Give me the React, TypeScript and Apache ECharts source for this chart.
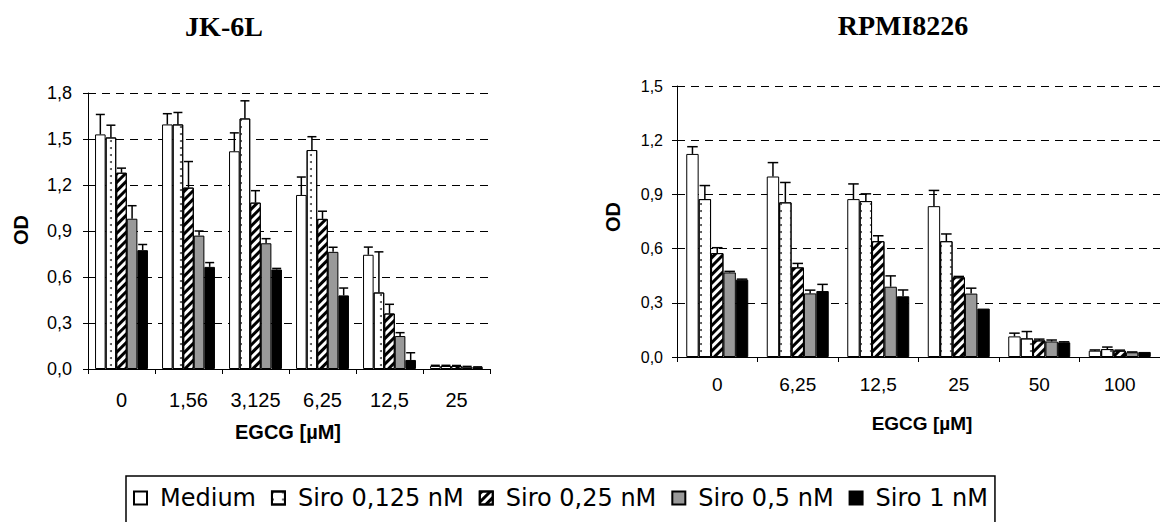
import React, { useEffect, useRef } from "react";
import * as echarts from "echarts";

const seriesNames = ["Medium", "Siro 0,125 nM", "Siro 0,25 nM", "Siro 0,5 nM", "Siro 1 nM"];

const leftCategories = ["0", "1,56", "3,125", "6,25", "12,5", "25"];
const rightCategories = ["0", "6,25", "12,5", "25", "50", "100"];

// JK-6L
const leftMedium = [1.53, 1.595, 1.42, 1.135, 0.745, 0.02];
const leftSiro0125 = [1.51, 1.595, 1.634, 1.428, 0.499, 0.02];
const leftSiro025 = [1.28, 1.183, 1.085, 0.979, 0.362, 0.02];
const leftSiro05 = [0.98, 0.87, 0.82, 0.764, 0.215, 0.015];
const leftSiro1 = [0.775, 0.666, 0.649, 0.48, 0.059, 0.012];

const leftMediumErr = [0.13, 0.07, 0.12, 0.117, 0.05, 0.004];
const leftSiro0125Err = [0.08, 0.078, 0.115, 0.087, 0.265, 0.004];
const leftSiro025Err = [0.03, 0.17, 0.078, 0.05, 0.06, 0.003];
const leftSiro05Err = [0.085, 0.03, 0.03, 0.03, 0.022, 0.002];
const leftSiro1Err = [0.037, 0.028, 0.007, 0.048, 0.047, 0.002];

// RPMI8226
const rightMedium = [1.124, 0.999, 0.874, 0.835, 0.114, 0.035];
const rightSiro0125 = [0.874, 0.856, 0.863, 0.641, 0.103, 0.044];
const rightSiro025 = [0.575, 0.496, 0.641, 0.441, 0.092, 0.035];
const rightSiro05 = [0.468, 0.352, 0.389, 0.351, 0.086, 0.026];
const rightSiro1 = [0.428, 0.365, 0.336, 0.268, 0.081, 0.028];

const rightMediumErr = [0.04, 0.077, 0.084, 0.087, 0.018, 0.004];
const rightSiro0125Err = [0.075, 0.11, 0.04, 0.04, 0.038, 0.011];
const rightSiro025Err = [0.03, 0.022, 0.03, 0.005, 0.007, 0.003];
const rightSiro05Err = [0.006, 0.018, 0.06, 0.03, 0.008, 0.002];
const rightSiro1Err = [0.003, 0.037, 0.035, 0, 0.003, 0];

const leftValues = [leftMedium, leftSiro0125, leftSiro025, leftSiro05, leftSiro1];
const leftErrors = [leftMediumErr, leftSiro0125Err, leftSiro025Err, leftSiro05Err, leftSiro1Err];
const rightValues = [rightMedium, rightSiro0125, rightSiro025, rightSiro05, rightSiro1];
const rightErrors = [rightMediumErr, rightSiro0125Err, rightSiro025Err, rightSiro05Err, rightSiro1Err];

const leftTicks = { min: 0, max: 1.8, interval: 0.3 };
const rightTicks = { min: 0, max: 1.5, interval: 0.3 };

const SANS = "Liberation Sans, Arial, Helvetica, sans-serif";

const seriesStyles = [
  { color: "#ffffff" },
  {
    color: "#ffffff",
    decal: {
      symbol: "circle",
      symbolSize: 1,
      color: "#444444",
      dashArrayX: [2, 8],
      dashArrayY: [2, 5],
      rotation: 0,
    },
  },
  {
    color: "#ffffff",
    decal: {
      symbol: "rect",
      symbolSize: 1,
      color: "#000000",
      dashArrayX: [1, 0],
      dashArrayY: [3, 3],
      rotation: -Math.PI / 4,
    },
  },
  { color: "#999999" },
  { color: "#000000" },
];

const fmt = (v: number) => v.toFixed(1).replace(".", ",");

function makeErrorSeries(gridIdx: number, values: number[][], errors: number[][], catGap: number) {
  const data: number[][] = [];
  values.forEach((vals, s) => {
    vals.forEach((v, c) => {
      data.push([c, v, errors[s][c], s]);
    });
  });
  return {
    type: "custom",
    name: "err" + gridIdx,
    xAxisIndex: gridIdx,
    yAxisIndex: gridIdx,
    z: 10,
    silent: true,
    encode: { x: 0, y: 1 },
    data,
    renderItem: (params: any, api: any) => {
      const c = api.value(0);
      const v = api.value(1);
      const e = api.value(2);
      const s = api.value(3);
      if (!(e > 0)) return { type: "group", children: [] };
      const base = api.coord([c, v]);
      const top = api.coord([c, v + e]);
      const band = api.size([1, 0])[0];
      const barW = (band * (1 - catGap)) / 5;
      const x = base[0] + (s - 2) * barW;
      const capW = barW * 0.85;
      const st = { stroke: "#000", lineWidth: 1.5 };
      return {
        type: "group",
        children: [
          { type: "line", shape: { x1: x, y1: base[1], x2: x, y2: top[1] }, style: st },
          { type: "line", shape: { x1: x - capW / 2, y1: top[1], x2: x + capW / 2, y2: top[1] }, style: st },
        ],
      };
    },
  };
}

export default function App() {
  const ref = useRef<HTMLDivElement>(null);

  useEffect(() => {
    if (!ref.current) return;
    const chart = echarts.init(ref.current, null, { renderer: "svg" });

    const leftGap = 0.21;
    const rightGap = 0.23;

    const xAxisBase = (labelSize: number, margin: number) => ({
      type: "category",
      axisLine: { lineStyle: { color: "#000", width: 1 } },
      axisTick: { show: true, length: 5, lineStyle: { color: "#000" } },
      axisLabel: { color: "#000", fontSize: labelSize, fontFamily: SANS, margin },
      splitLine: { show: false },
    });
    const yAxisBase = (labelSize: number, margin: number) => ({
      type: "value",
      axisLine: { show: true, lineStyle: { color: "#000", width: 1 } },
      axisTick: { show: true, length: 5, lineStyle: { color: "#000" } },
      axisLabel: { color: "#000", fontSize: labelSize, fontFamily: SANS, margin, formatter: fmt },
      splitLine: { show: true, lineStyle: { color: "#000", type: [8, 6], width: 1 } },
    });

    const barSeries: any[] = [];
    [leftValues, rightValues].forEach((vals, g) => {
      vals.forEach((arr, s) => {
        barSeries.push({
          type: "bar",
          name: seriesNames[s],
          xAxisIndex: g,
          yAxisIndex: g,
          data: arr,
          barGap: "0%",
          barCategoryGap: g === 0 ? "21%" : "23%",
          itemStyle: { ...seriesStyles[s], borderColor: "#000", borderWidth: 1 },
          emphasis: { disabled: true },
        });
      });
    });

    const boldSans = (size: number) => `bold ${size}px Liberation Sans, Arial, sans-serif`;
    const boldSerif = (size: number) => `bold ${size}px Liberation Serif, Times New Roman, serif`;

    const option: any = {
      animation: false,
      backgroundColor: "#ffffff",
      grid: [
        { left: 88, top: 93, width: 402, height: 276 },
        { left: 677, top: 86, width: 488, height: 271 },
      ],
      xAxis: [
        { ...xAxisBase(20, 21), gridIndex: 0, data: leftCategories },
        { ...xAxisBase(19, 18), gridIndex: 1, data: rightCategories },
      ],
      yAxis: [
        { ...yAxisBase(18, 16), gridIndex: 0, ...leftTicks },
        { ...yAxisBase(16, 14), gridIndex: 1, ...rightTicks },
      ],
      legend: {
        data: seriesNames,
        left: 126,
        top: 476,
        orient: "horizontal",
        icon: "rect",
        itemWidth: 13,
        itemHeight: 13,
        itemGap: 15,
        padding: [10, 7, 14, 7],
        borderColor: "#000",
        borderWidth: 1.5,
        selectedMode: false,
        textStyle: {
          color: "#000",
          fontSize: 24,
          fontFamily: "DejaVu Sans, sans-serif",
          padding: [0, 0, 0, 8],
        },
      },
      graphic: [
        { type: "text", x: 224, y: 26, style: { text: "JK-6L", font: boldSerif(28), fill: "#000", align: "center", verticalAlign: "middle" } },
        { type: "text", x: 903, y: 25, style: { text: "RPMI8226", font: boldSerif(28), fill: "#000", align: "center", verticalAlign: "middle" } },
        { type: "text", x: 21, y: 230, rotation: Math.PI / 2, style: { text: "OD", font: boldSans(20), fill: "#000", align: "center", verticalAlign: "middle" } },
        { type: "text", x: 613, y: 217, rotation: Math.PI / 2, style: { text: "OD", font: boldSans(20), fill: "#000", align: "center", verticalAlign: "middle" } },
        { type: "text", x: 288, y: 432, style: { text: "EGCG [µM]", font: boldSans(20), fill: "#000", align: "center", verticalAlign: "middle" } },
        { type: "text", x: 922, y: 423, style: { text: "EGCG [µM]", font: boldSans(19), fill: "#000", align: "center", verticalAlign: "middle" } },
      ],
      series: [
        ...barSeries,
        makeErrorSeries(0, leftValues, leftErrors, leftGap),
        makeErrorSeries(1, rightValues, rightErrors, rightGap),
      ],
    };

    chart.setOption(option);
    return () => chart.dispose();
  }, []);

  return (
    <div
      ref={ref}
      style={{ position: "absolute", left: 0, top: 0, width: 1160, height: 522, background: "#fff" }}
    />
  );
}
